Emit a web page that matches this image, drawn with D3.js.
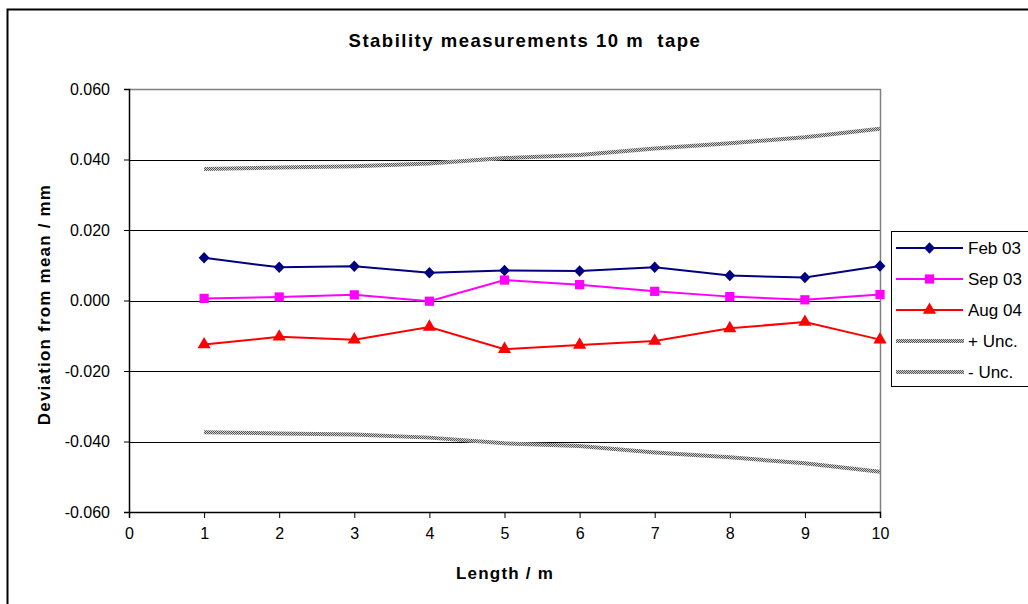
<!DOCTYPE html>
<html>
<head>
<meta charset="utf-8">
<script src="https://cdn.jsdelivr.net/npm/d3@7/dist/d3.min.js"></script>
<style>
  body { margin: 0; background: #fff; }
  svg { display: block; }
  text { font-family: "Liberation Sans", Arial, sans-serif; fill: #000; }
</style>
</head>
<body>
<svg id="chart" width="1028" height="604"></svg>
<script>
const lengths = [1, 2, 3, 4, 5, 6, 7, 8, 9, 10];
const feb03 = [0.0121, 0.0094, 0.0097, 0.0079, 0.0085, 0.0084, 0.0094, 0.0071, 0.0065, 0.0098];
const sep03 = [0.0006, 0.0010, 0.0016, -0.0002, 0.0058, 0.0045, 0.0026, 0.0011, 0.0002, 0.0017];
const aug04 = [-0.0125, -0.0103, -0.0111, -0.0075, -0.0138, -0.0126, -0.0115, -0.0079, -0.0061, -0.0111];
const uncPlus = [0.0373, 0.0377, 0.0381, 0.0389, 0.0404, 0.0413, 0.0431, 0.0446, 0.0463, 0.0487];
const uncMinus = [-0.0374, -0.0377, -0.0380, -0.0389, -0.0405, -0.0413, -0.0431, -0.0445, -0.0462, -0.0486];
const xTicks = [0, 1, 2, 3, 4, 5, 6, 7, 8, 9, 10];
const yTicks = [-0.06, -0.04, -0.02, 0, 0.02, 0.04, 0.06];
const seriesNames = ["Feb 03", "Sep 03", "Aug 04", "+ Unc.", "- Unc."];

const svg = d3.select("#chart");
const L = 129, R = 880, T = 89, B = 512;
const x = d3.scaleLinear().domain([0, 10]).range([L, R]);
const y = d3.scaleLinear().domain([-0.06, 0.06]).range([B, T]);

// wide diamond symbol (Excel style)
const wideDiamond = {
  draw(ctx, size) {
    const r = Math.sqrt(size / 2);
    ctx.moveTo(0, -r * 1.05);
    ctx.lineTo(r, 0);
    ctx.lineTo(0, r * 1.05);
    ctx.lineTo(-r, 0);
    ctx.closePath();
  }
};

// pattern for uncertainty lines
const defs = svg.append("defs");
const pat = defs.append("pattern").attr("id", "hatch").attr("patternUnits", "userSpaceOnUse")
  .attr("width", 2).attr("height", 2);
pat.append("rect").attr("width", 2).attr("height", 2).attr("fill", "#d0d0d0");
pat.append("rect").attr("width", 1).attr("height", 1).attr("fill", "#555");
pat.append("rect").attr("x", 1).attr("y", 1).attr("width", 1).attr("height", 1).attr("fill", "#555");

// outer frame
svg.append("rect").attr("x", 7.5).attr("y", 9.5).attr("width", 1100).attr("height", 700)
  .attr("fill", "none").attr("stroke", "#000").attr("stroke-width", 2);

// gridlines
svg.append("g").selectAll("line").data(yTicks.filter(v => v > -0.06 && v < 0.06)).join("line")
  .attr("x1", L).attr("x2", R).attr("y1", d => Math.round(y(d)) + 0.5).attr("y2", d => Math.round(y(d)) + 0.5)
  .attr("stroke", "#000").attr("stroke-width", 1);

// top & right plot border
svg.append("path").attr("d", `M${L},${T + 0.5}H${R + 0.5}V${B}`)
  .attr("fill", "none").attr("stroke", "#808080").attr("stroke-width", 1.5);

// axes
const yAxis = d3.axisLeft(y).tickValues(yTicks).tickFormat(d3.format(".3f")).tickSize(5).tickPadding(14);
const gy = svg.append("g").attr("transform", `translate(${L},0)`).call(yAxis);
gy.select(".domain").attr("stroke", "#000").attr("stroke-width", 1.5);
gy.selectAll(".tick line").attr("stroke", "#000");
gy.selectAll("text").style("font-size", "16px").attr("fill", "#000");
gy.selectAll("text").text(d => d3.format(".3f")(d).replace("−", "-"));

const xAxis = d3.axisBottom(x).tickValues(xTicks).tickFormat(d3.format("d")).tickSize(6).tickPadding(10);
const gx = svg.append("g").attr("transform", `translate(0,${B})`).call(xAxis);
gx.select(".domain").attr("stroke", "#000").attr("stroke-width", 1.5);
gx.selectAll(".tick line").attr("stroke", "#000");
gx.selectAll("text").style("font-size", "16px").attr("fill", "#000");

// lines
const line = d3.line().x((d, i) => x(lengths[i])).y(d => y(d));
function uncLine(data) {
  svg.append("path").datum(data).attr("d", line).attr("fill", "none")
    .attr("stroke", "url(#hatch)").attr("stroke-width", 4);
}
uncLine(uncPlus);
uncLine(uncMinus);

const series = [
  { data: feb03, color: "#000080", shape: wideDiamond, size: 60 },
  { data: sep03, color: "#FF00FF", shape: d3.symbolSquare, size: 85 },
  { data: aug04, color: "#FF0000", shape: d3.symbolTriangle, size: 75 },
];
series.forEach(s => {
  svg.append("path").datum(s.data).attr("d", line).attr("fill", "none")
    .attr("stroke", s.color).attr("stroke-width", 2);
  svg.append("g").selectAll("path").data(s.data).join("path")
    .attr("transform", (d, i) => `translate(${x(lengths[i])},${y(d)})`)
    .attr("d", d3.symbol().type(s.shape).size(s.size))
    .attr("fill", s.color);
});

// titles
svg.append("text").attr("x", 525).attr("y", 47).attr("text-anchor", "middle")
  .style("font-size", "18.5px").style("font-weight", "bold").style("letter-spacing", "1.5px")
  .attr("xml:space", "preserve").text("Stability measurements 10 m  tape");
svg.append("text").attr("x", 505).attr("y", 579).attr("text-anchor", "middle")
  .style("font-size", "17px").style("font-weight", "bold").style("letter-spacing", "1.2px")
  .text("Length / m");
svg.append("text").attr("transform", `translate(50,${(T + B) / 2 + 4}) rotate(-90)`).attr("text-anchor", "middle")
  .style("font-size", "17px").style("font-weight", "bold").style("letter-spacing", "1.2px")
  .text("Deviation from mean / mm");

// legend
const lg = svg.append("g");
lg.append("rect").attr("x", 891.5).attr("y", 231.5).attr("width", 200).attr("height", 155)
  .attr("fill", "#fff").attr("stroke", "#000").attr("stroke-width", 1);
const legendY = d3.scalePoint().domain(seriesNames).range([248, 372]);
seriesNames.forEach((name, i) => {
  const yy = legendY(name);
  if (i < 3) {
    const s = series[i];
    lg.append("line").attr("x1", 896).attr("x2", 963).attr("y1", yy).attr("y2", yy)
      .attr("stroke", s.color).attr("stroke-width", 2);
    lg.append("path").attr("transform", `translate(929.5,${yy})`)
      .attr("d", d3.symbol().type(s.shape).size(s.size)).attr("fill", s.color);
  } else {
    lg.append("line").attr("x1", 896).attr("x2", 964).attr("y1", yy).attr("y2", yy)
      .attr("stroke", "url(#hatch)").attr("stroke-width", 4);
  }
  lg.append("text").attr("x", 968).attr("y", yy + 6).style("font-size", "17px").text(name);
});
</script>
</body>
</html>
